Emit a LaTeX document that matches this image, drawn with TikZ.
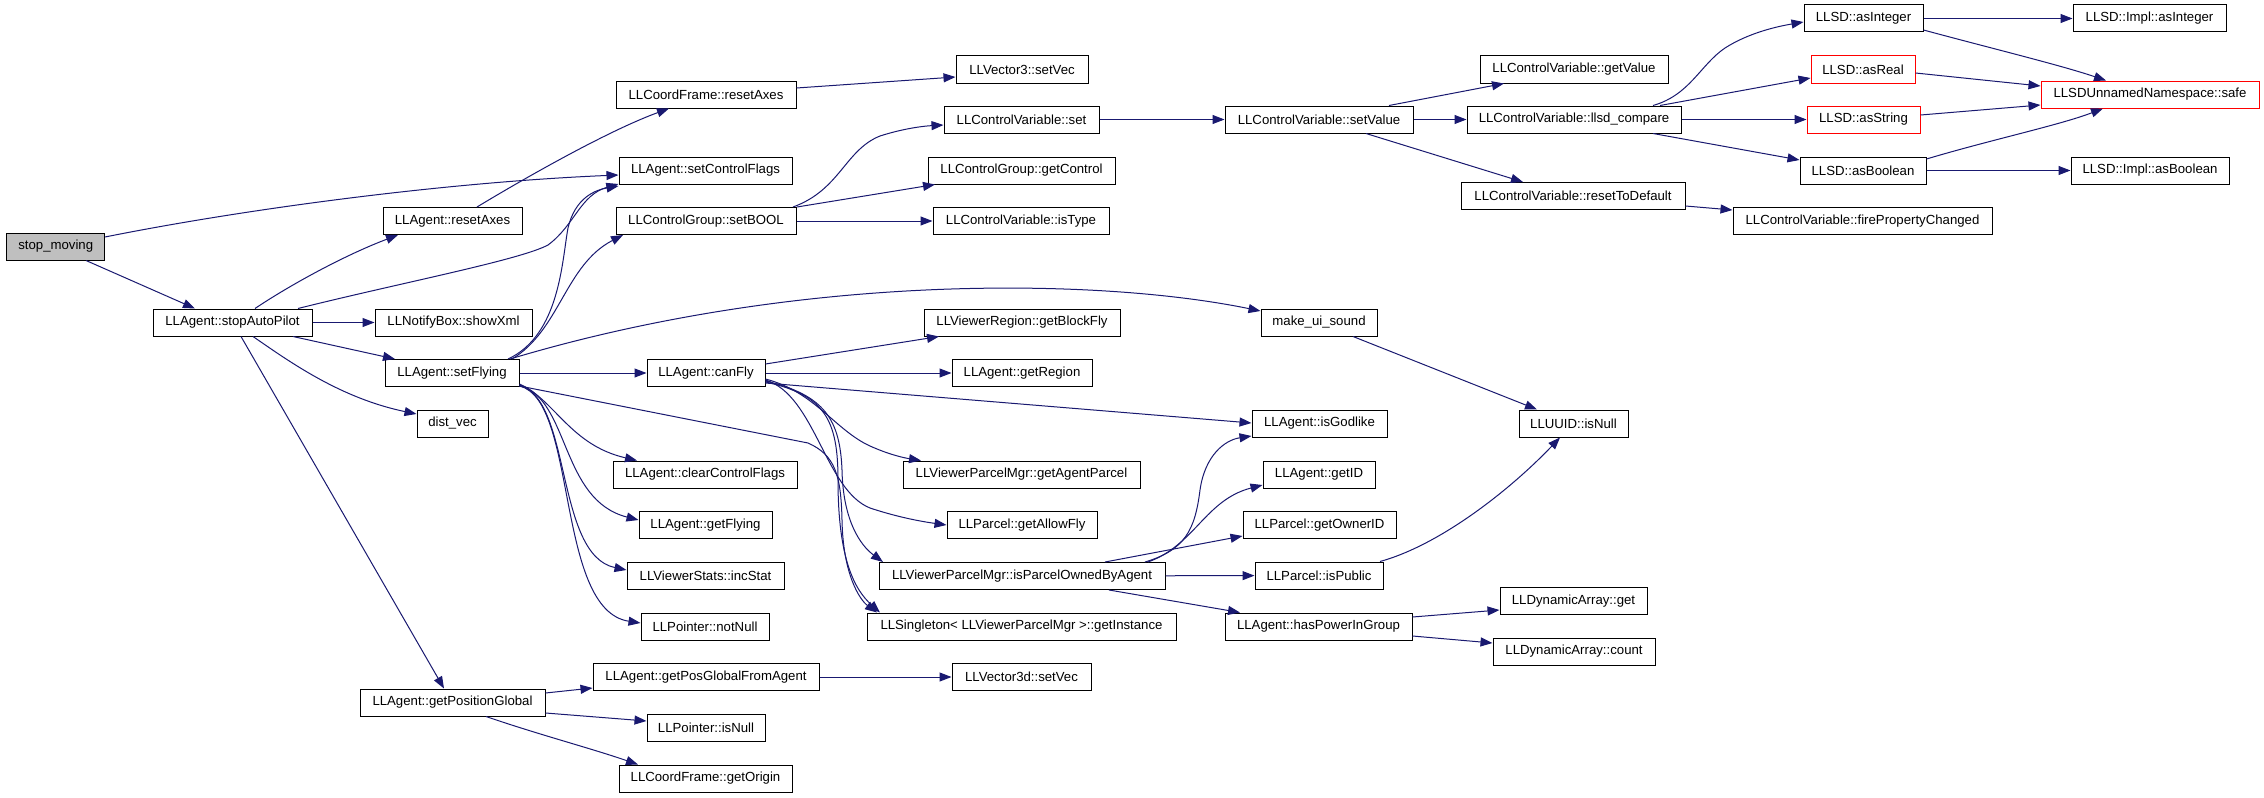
\documentclass[tikz,border=0pt]{standalone}
\usepackage{fontspec}
\setmainfont{Liberation Sans}
\usetikzlibrary{arrows.meta}
\definecolor{edgec}{HTML}{191970}
\definecolor{nodegray}{HTML}{BFBFBF}
\newcommand\dxfont{\fontsize{13.2bp}{15bp}\selectfont}
\begin{document}
\begin{tikzpicture}[x=1bp,y=-1bp,
  fn/.style={draw=black, line width=1bp, rectangle, inner sep=0pt, minimum height=27bp, font=\dxfont, text=black},
  redn/.style={fn, draw=red},
  e/.style={draw=edgec, line width=1bp, -{Triangle[length=12bp,width=9bp,fill=edgec]}}]
\fill[white] (0,0) rectangle (2264,797);
\useasboundingbox (0,0) rectangle (2264,797);
% column A/B/C
\node[fn, minimum width=97.5bp, fill=nodegray] (sm) at (55.75,246.5) {stop\_moving};
\node[fn, minimum width=159bp] (sap) at (232.5,322.5) {LLAgent::stopAutoPilot};
\node[fn, minimum width=139bp] (ra) at (452.5,221) {LLAgent::resetAxes};
\node[fn, minimum width=157bp] (sx) at (453.5,322.5) {LLNotifyBox::showXml};
\node[fn, minimum width=134bp] (sf) at (452,373) {LLAgent::setFlying};
\node[fn, minimum width=71bp] (dv) at (452.5,423.5) {dist\_vec};
\node[fn, minimum width=185bp] (gpg) at (452.5,702.5) {LLAgent::getPositionGlobal};
% column D
\node[fn, minimum width=180bp] (cfr) at (706,94.5) {LLCoordFrame::resetAxes};
\node[fn, minimum width=173bp] (scf) at (705.5,170.5) {LLAgent::setControlFlags};
\node[fn, minimum width=180bp] (sb) at (706,221) {LLControlGroup::setBOOL};
\node[fn, minimum width=118bp] (cf) at (706,373) {LLAgent::canFly};
\node[fn, minimum width=184bp] (ccf) at (705,474.5) {LLAgent::clearControlFlags};
\node[fn, minimum width=133bp] (gf) at (705.5,525) {LLAgent::getFlying};
\node[fn, minimum width=157bp] (is) at (705.5,576) {LLViewerStats::incStat};
\node[fn, minimum width=128bp] (nn) at (705,626.5) {LLPointer::notNull};
\node[fn, minimum width=226bp] (gpga) at (706,677) {LLAgent::getPosGlobalFromAgent};
\node[fn, minimum width=118bp] (pin) at (706,727.5) {LLPointer::isNull};
\node[fn, minimum width=173bp] (go) at (705.5,778.5) {LLCoordFrame::getOrigin};
% column E
\node[fn, minimum width=132bp] (v3) at (1022,69.5) {LLVector3::setVec};
\node[fn, minimum width=155bp] (cvs) at (1021.5,119.5) {LLControlVariable::set};
\node[fn, minimum width=187bp] (gc) at (1021.5,170.5) {LLControlGroup::getControl};
\node[fn, minimum width=176bp] (it) at (1021,221) {LLControlVariable::isType};
\node[fn, minimum width=196bp] (gbf) at (1022,322.5) {LLViewerRegion::getBlockFly};
\node[fn, minimum width=140bp] (gr) at (1022,373) {LLAgent::getRegion};
\node[fn, minimum width=237bp] (gap) at (1021.5,474.5) {LLViewerParcelMgr::getAgentParcel};
\node[fn, minimum width=150bp] (gaf) at (1022,525) {LLParcel::getAllowFly};
\node[fn, minimum width=286bp] (ipo) at (1022,576) {LLViewerParcelMgr::isParcelOwnedByAgent};
\node[fn, minimum width=309bp] (gi) at (1021.5,626.5) {LLSingleton< LLViewerParcelMgr >::getInstance};
\node[fn, minimum width=139bp] (v3d) at (1021.5,677) {LLVector3d::setVec};
% column F
\node[fn, minimum width=188bp] (sv) at (1319,119.5) {LLControlVariable::setValue};
\node[fn, minimum width=116bp] (mus) at (1319,322.5) {make\_ui\_sound};
\node[fn, minimum width=135bp] (ig) at (1319.5,423.5) {LLAgent::isGodlike};
\node[fn, minimum width=112bp] (gid) at (1319,474.5) {LLAgent::getID};
\node[fn, minimum width=153bp] (goi) at (1319.5,525) {LLParcel::getOwnerID};
\node[fn, minimum width=128bp] (ip) at (1319,575.5) {LLParcel::isPublic};
\node[fn, minimum width=187bp] (hpg) at (1318.5,626.5) {LLAgent::hasPowerInGroup};
% column G
\node[fn, minimum width=188bp] (gv) at (1574,69.5) {LLControlVariable::getValue};
\node[fn, minimum width=214bp] (lc) at (1574,119.5) {LLControlVariable::llsd\_compare};
\node[fn, minimum width=224bp] (rtd) at (1573,196) {LLControlVariable::resetToDefault};
\node[fn, minimum width=109bp] (un) at (1573.5,423.5) {LLUUID::isNull};
\node[fn, minimum width=147bp] (dag) at (1573.5,601) {LLDynamicArray::get};
\node[fn, minimum width=162bp] (dac) at (1574,651.5) {LLDynamicArray::count};
% column H
\node[fn, minimum width=119bp] (ai) at (1863.5,18.5) {LLSD::asInteger};
\node[redn, minimum width=104bp] (ar) at (1863,69.5) {LLSD::asReal};
\node[redn, minimum width=113bp] (as) at (1863.5,119.5) {LLSD::asString};
\node[fn, minimum width=126bp] (ab) at (1863,170.5) {LLSD::asBoolean};
\node[fn, minimum width=259bp] (fpc) at (1862.5,221) {LLControlVariable::firePropertyChanged};
% column I
\node[fn, minimum width=153bp] (iai) at (2149.5,18.5) {LLSD::Impl::asInteger};
\node[redn, minimum width=218bp] (safe) at (2150,94.5) {LLSDUnnamedNamespace::safe};
\node[fn, minimum width=158bp] (iab) at (2150,170.5) {LLSD::Impl::asBoolean};

% edges
\draw[e] (sm.east |- 0,237) .. controls (250,208) and (450,182) .. (scf.west |- 0,175);
\draw[e] (sm.south -| 86,0) -- (sap.north -| 195,0);
\draw[e] (sap.north -| 255,0) .. controls (290,285) and (345,255) .. (ra.south -| 398,0);
\draw[e] (sap.north -| 298,0) .. controls (400,283) and (520,260) .. (548,245) .. controls (575,225) and (580,195) .. (scf.west |- 0,184);
\draw[e] (sap) -- (sx);
\draw[e] (sap.south -| 293,0) -- (sf.north -| 395,0);
\draw[e] (sap.south -| 253,0) .. controls (290,362) and (340,398) .. (dv.west |- 0,414);
\draw[e] (sap.south -| 241,0) -- (gpg.north -| 444,0);
\draw[e] (ra.north -| 477,0) .. controls (530,175) and (610,130) .. (cfr.south -| 669,0);
\draw[e] (cfr.east |- 0,88) -- (v3.west |- 0,77);
\draw[e] (sf.north -| 508,0) .. controls (560,335) and (562,260) .. (568,228) .. controls (575,198) and (595,190) .. (scf.west |- 0,186);
\draw[e] (sf.north -| 512,0) .. controls (560,330) and (565,265) .. (sb.south -| 623,0);
\draw[e] (sf.north -| 510,0) .. controls (800,272) and (1100,278) .. (mus.west |- 0,311);
\draw[e] (sf) -- (cf);
\draw[e] (sf.east |- 0,384) .. controls (555,400) and (570,445) .. (ccf.north -| 637,0);
\draw[e] (sf.east |- 0,385) .. controls (570,400) and (560,500) .. (gf.west |- 0,520);
\draw[e] (sf.east |- 0,385) .. controls (572,400) and (555,555) .. (is.west |- 0,570);
\draw[e] (sf.east |- 0,386) .. controls (578,400) and (555,610) .. (nn.west |- 0,623);
\draw[e] (sf.east |- 0,386) -- (808,443) .. controls (835,455) and (841,475) .. (842,520) .. controls (843,575) and (860,600) .. (gi.north -| 877,0);
\draw[e] (cf.east |- 0,364) -- (gbf.south -| 939,0);
\draw[e] (cf) -- (gr);
\draw[e] (cf.east |- 0,383) -- (ig.west |- 0,423);
\draw[e] (cf.east |- 0,379) .. controls (815,392) and (835,430) .. (870,446) .. controls (890,455) and (905,458) .. (gap.north -| 921,0);
\draw[e] (cf.east |- 0,380) .. controls (815,395) and (825,490) .. (870,508) .. controls (900,518) and (925,522) .. (gaf.west |- 0,525);
\draw[e] (cf.east |- 0,381) .. controls (825,395) and (840,420) .. (842,470) .. controls (843,520) and (860,545) .. (ipo.north -| 883,0);
\draw[e] (cf.east |- 0,382) .. controls (825,395) and (838,420) .. (838,480) .. controls (838,560) and (855,590) .. (gi.north -| 880,0);
\draw[e] (sb.north -| 793,0) .. controls (840,190) and (845,150) .. (880,136) .. controls (905,128) and (925,126) .. (cvs.west |- 0,125);
\draw[e] (sb.north -| 797,0) -- (gc.south -| 935,0);
\draw[e] (sb) -- (it);
\draw[e] (cvs) -- (sv);
\draw[e] (sv.north -| 1389,0) -- (gv.south -| 1504,0);
\draw[e] (sv) -- (lc);
\draw[e] (sv.south -| 1366,0) -- (rtd.north -| 1523,0);
\draw[e] (rtd.east |- 0,206) -- (fpc.west |- 0,210);
\draw[e] (lc.north -| 1653,0) .. controls (1690,95) and (1700,65) .. (1725,48) .. controls (1750,32) and (1780,26) .. (ai.west |- 0,22);
\draw[e] (lc.north -| 1660,0) -- (ar.west |- 0,78);
\draw[e] (lc) -- (as);
\draw[e] (lc.south -| 1653,0) -- (ab.west |- 0,160);
\draw[e] (ai) -- (iai);
\draw[e] (ai.east |- 0,30) .. controls (1990,48) and (2060,65) .. (safe.north -| 2106,0);
\draw[e] (ar.east |- 0,73) -- (safe.west |- 0,86);
\draw[e] (as.east |- 0,115) -- (safe.west |- 0,105);
\draw[e] (ab.east |- 0,159) .. controls (1990,140) and (2060,125) .. (safe.south -| 2103,0);
\draw[e] (ab) -- (iab);
\draw[e] (mus.south -| 1353,0) -- (un.north -| 1537,0);
\draw[e] (ip.north -| 1380,0) .. controls (1440,545) and (1510,490) .. (un.south -| 1560,0);
\draw[e] (ipo.north -| 1145,0) .. controls (1185,550) and (1195,530) .. (1200,490) .. controls (1205,455) and (1225,440) .. (ig.west |- 0,436);
\draw[e] (ipo.north -| 1148,0) .. controls (1195,545) and (1205,500) .. (gid.west |- 0,485);
\draw[e] (ipo.north -| 1105,0) -- (goi.west |- 0,536);
\draw[e] (ipo) -- (ip);
\draw[e] (ipo.south -| 1109,0) -- (hpg.north -| 1240,0);
\draw[e] (hpg.east |- 0,617) -- (dag.west |- 0,610);
\draw[e] (hpg.east |- 0,636) -- (dac.west |- 0,643);
\draw[e] (gpg.east |- 0,693) -- (gpga.west |- 0,688);
\draw[e] (gpg.east |- 0,713) -- (pin.west |- 0,721);
\draw[e] (gpg.south -| 486,0) .. controls (540,735) and (590,748) .. (go.north -| 638,0);
\draw[e] (gpga) -- (v3d);
\end{tikzpicture}
\end{document}
